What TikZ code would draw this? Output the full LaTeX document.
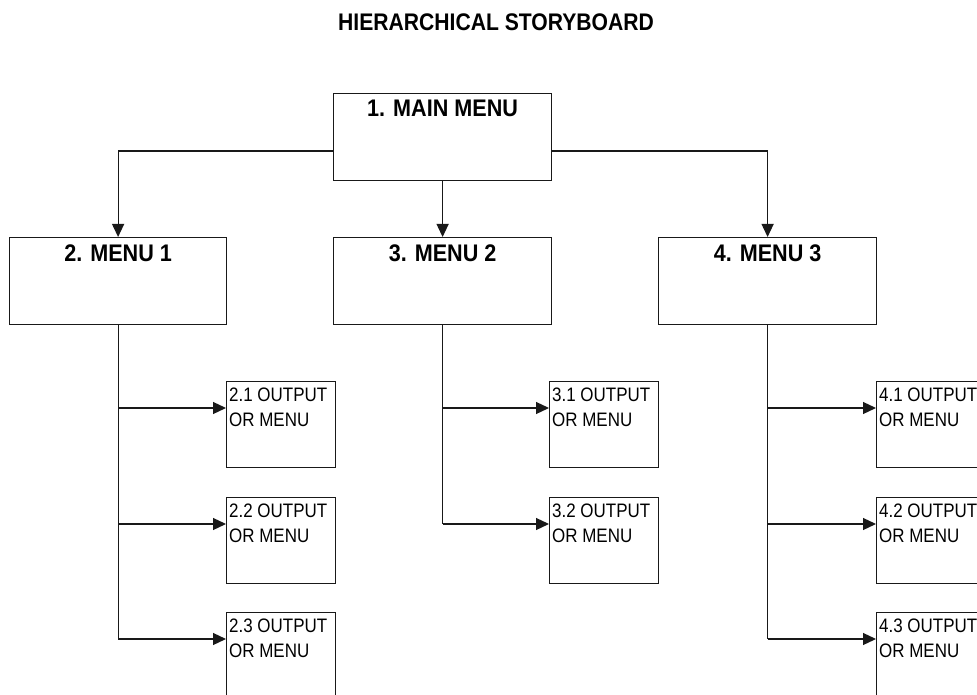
\documentclass[tikz,border=0pt]{standalone}
\usepackage{fontspec}
\usepackage{graphicx}
\setmainfont{Liberation Sans}
\usetikzlibrary{arrows.meta}
\newcommand{\sqz}[2]{\scalebox{#1}[1]{#2}}
\tikzset{
  box/.style={draw=black!90, line width=1.2pt, rectangle, inner sep=0pt, anchor=north west},
  menubox/.style={box, minimum width=218pt, minimum height=87pt},
  outbox/.style={box, minimum width=109pt, minimum height=86pt},
  lbl/.style={anchor=base, yshift=-24pt, inner sep=0pt, font=\bfseries\fontsize{24}{24}\selectfont},
  olbl/.style={anchor=north west, align=left, inner sep=0pt, xshift=3pt, yshift=-7pt, font=\fontsize{19.5}{25}\selectfont},
  conn/.style={draw=black!90, line width=1.2pt},
  arr/.style={conn, -{Triangle[length=13pt,width=12pt]}},
}
\newcommand{\outtxt}[1]{\sqz{0.87}{#1 OUTPUT}\\\sqz{0.87}{OR MENU}}
\begin{document}
\begin{tikzpicture}[x=1pt,y=-1pt]
\path[use as bounding box] (0,0) rectangle (977,695);
\clip (0,0) rectangle (977,695);
\node[anchor=base, inner sep=0pt, font=\bfseries\fontsize{24}{24}\selectfont] (title) at (496,31) {\sqz{0.88}{HIERARCHICAL STORYBOARD}};
% top level
\node[menubox, label={[lbl]north:\sqz{0.9}{1. MAIN MENU}}] (main) at (333,93) {};
\node[menubox, minimum width=217pt, label={[lbl]north:\sqz{0.9}{2. MENU 1}}] (m1) at (9,237) {};
\node[menubox, label={[lbl]north:\sqz{0.9}{3. MENU 2}}] (m2) at (333,237) {};
\node[menubox, label={[lbl]north:\sqz{0.9}{4. MENU 3}}] (m3) at (658,237) {};
% outputs
\node[outbox, label={[olbl]north west:{\outtxt{2.1}}}] (c21) at (226,381) {};
\node[outbox, label={[olbl]north west:{\outtxt{2.2}}}] (c22) at (226,497) {};
\node[outbox, label={[olbl]north west:{\outtxt{2.3}}}] (c23) at (226,612) {};
\node[outbox, label={[olbl]north west:{\outtxt{3.1}}}] (c31) at (549,381) {};
\node[outbox, label={[olbl]north west:{\outtxt{3.2}}}] (c32) at (549,497) {};
\node[outbox, label={[olbl]north west:{\outtxt{4.1}}}] (c41) at (876,381) {};
\node[outbox, label={[olbl]north west:{\outtxt{4.2}}}] (c42) at (876,497) {};
\node[outbox, label={[olbl]north west:{\outtxt{4.3}}}] (c43) at (876,612) {};
% connector points
\coordinate (mL) at ([yshift=-58pt]main.north west);
\coordinate (mR) at ([yshift=-58pt]main.north east);
\foreach \c in {c21,c22,c23,c31,c32,c41,c42,c43}{
  \coordinate (a\c) at ([yshift=-27pt]\c.north west);
}
% connectors from main
\draw[arr] (mL) -| (m1.north);
\draw[arr] (mR) -| (m3.north);
\draw[arr] (main.south) -- (m2.north);
% trunks
\draw[conn] (m1.south) -- (m1.south |- ac23);
\draw[conn] (m2.south) -- (m2.south |- ac32);
\draw[conn] (m3.south) -- (m3.south |- ac43);
\draw[arr] (m1.south |- ac21) -- (ac21);
\draw[arr] (m1.south |- ac22) -- (ac22);
\draw[arr] (m1.south |- ac23) -- (ac23);
\draw[arr] (m2.south |- ac31) -- (ac31);
\draw[arr] (m2.south |- ac32) -- (ac32);
\draw[arr] (m3.south |- ac41) -- (ac41);
\draw[arr] (m3.south |- ac42) -- (ac42);
\draw[arr] (m3.south |- ac43) -- (ac43);
\end{tikzpicture}
\end{document}
